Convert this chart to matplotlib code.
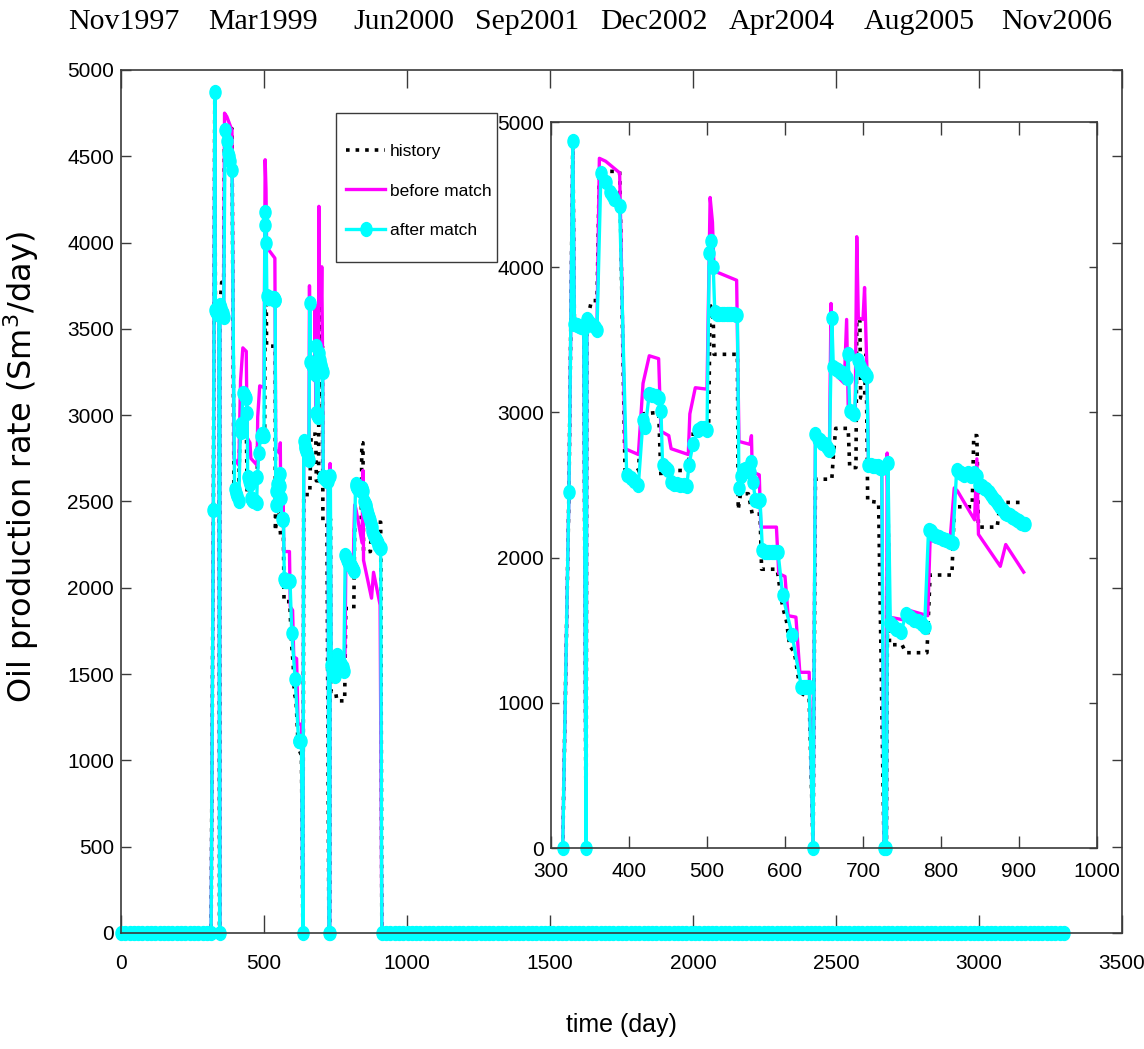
import numpy as np
import matplotlib
matplotlib.use("Agg")
import matplotlib.pyplot as plt
from matplotlib.path import Path
from matplotlib.patches import Rectangle
from matplotlib.transforms import Affine2D

# report days with no production (before start-up and after the well is shut)
shut_early = np.arange(0, 301, 15)
shut_late = np.arange(912, 3301, 15)

# observed oil rate, Sm3/day
hist_t = [315, 323, 328, 330, 342, 345, 346, 349, 352, 359, 362, 388, 395, 412,
          417, 438, 441, 444, 476, 478, 502, 504, 508, 509, 539, 540, 543, 553,
          558, 568, 570, 590, 593, 597, 602, 606, 612, 620, 631, 636, 639, 660,
          662, 665, 681, 683, 691, 692, 696, 697, 702, 704, 706, 720, 727, 730,
          732, 734, 750, 755, 782, 786, 814, 817, 840, 842, 846, 848, 872, 876,
          908]
hist_v = [0, 2450, 4870, 3600, 3580, 0, 3650, 3700, 3770, 3770, 4660, 4660, 2570, 2600,
          2990, 3000, 2550, 2600, 2600, 2850, 2850, 3760, 3640, 3400, 3400, 2330, 2440, 2440,
          2300, 2300, 1920, 1920, 1800, 1660, 1560, 1390, 1350, 1070, 1030, 0, 2540, 2540,
          2700, 2890, 2890, 2620, 2620, 3640, 3640, 3100, 3100, 3400, 2390, 2380, 0, 0,
          2400, 1400, 1400, 1345, 1345, 1880, 1880, 2350, 2350, 2840, 2840, 2210, 2210, 2380,
          2380]

# simulated rate with the initial model
before_t = [315, 323, 328, 330, 342, 345, 346, 359, 362, 370, 388, 395, 412, 418,
            426, 438, 441, 451, 454, 476, 478, 485, 500, 504, 507, 509, 511, 538,
            541, 555, 557, 558, 567, 569, 589, 592, 600, 604, 614, 619, 631, 636,
            639, 657, 659, 661, 676, 679, 681, 690, 692, 694, 700, 702, 705, 707,
            724, 727, 730, 731, 734, 753, 757, 783, 786, 811, 817, 821, 843, 846,
            848, 876, 883, 906]
before_v = [0, 2450, 4870, 3610, 3580, 0, 3650, 3600, 4750, 4730, 4650, 2750, 2710, 3200,
            3390, 3370, 2870, 2840, 2750, 2710, 2990, 3170, 3160, 4480, 4310, 3990, 3970, 3910,
            2800, 2780, 2840, 2590, 2570, 2210, 2210, 1890, 1870, 1600, 1590, 1210, 1210, 0,
            2850, 2760, 3750, 3280, 3200, 3640, 3050, 2990, 4210, 3650, 3640, 3860, 3300, 2650,
            2630, 0, 0, 2720, 1590, 1570, 1640, 1600, 2120, 2080, 2480, 2460, 2260, 2680,
            2160, 1940, 2090, 1900]

# simulated rate with the history-matched model
after_t = [315, 323, 328, 330, 333, 336, 339, 342, 345, 346, 349, 352, 356, 359,
           364, 370, 375, 378, 381, 388, 397, 402, 407, 412, 418, 421, 426, 430,
           434, 438, 441, 443, 447, 450, 454, 458, 462, 466, 470, 474, 477, 482,
           488, 492, 496, 500, 503, 505, 508, 510, 513, 516, 519, 522, 525, 528,
           531, 534, 537, 539, 541, 543, 546, 549, 552, 555, 557, 559, 562, 565,
           568, 571, 574, 577, 580, 583, 586, 589, 591, 597, 609, 621, 624, 627,
           631, 636, 639, 642, 645, 648, 651, 654, 657, 660, 662, 665, 668, 671,
           674, 677, 680, 681, 683, 686, 689, 693, 696, 699, 702, 705, 707, 710,
           713, 716, 719, 722, 724, 727, 730, 732, 735, 738, 742, 746, 749, 755,
           760, 765, 770, 775, 779, 784, 787, 790, 794, 798, 803, 807, 811, 815,
           820, 823, 826, 830, 834, 838, 842, 846, 849, 852, 855, 858, 861, 864,
           867, 870, 873, 876, 879, 882, 885, 888, 891, 894, 897, 900, 903, 906,
           908]
after_v = [0, 2450, 4870, 3610, 3600, 3595, 3590, 3580, 0, 3640, 3620, 3600, 3590, 3570,
           4650, 4590, 4520, 4500, 4470, 4420, 2570, 2550, 2530, 2500, 2950, 2900, 3130, 3120,
           3110, 3100, 3010, 2640, 2620, 2600, 2520, 2510, 2505, 2500, 2500, 2490, 2640, 2780,
           2880, 2890, 2890, 2880, 4100, 4180, 4000, 3690, 3680, 3680, 3680, 3680, 3680, 3680,
           3680, 3680, 3670, 3670, 2480, 2560, 2600, 2610, 2600, 2590, 2660, 2520, 2400, 2390,
           2400, 2050, 2040, 2040, 2040, 2040, 2040, 2040, 2040, 1740, 1470, 1110, 1110, 1110,
           1110, 0, 2850, 2820, 2810, 2790, 2780, 2760, 2740, 3650, 3310, 3300, 3290, 3280,
           3270, 3260, 3240, 3400, 3010, 3000, 2990, 3360, 3320, 3290, 3270, 3250, 2640, 2640,
           2630, 2630, 2630, 2620, 2620, 0, 0, 2650, 1550, 1530, 1510, 1500, 1490, 1610,
           1590, 1570, 1560, 1540, 1520, 2190, 2180, 2160, 2150, 2140, 2130, 2120, 2110, 2100,
           2600, 2590, 2580, 2570, 2580, 2560, 2580, 2560, 2500, 2490, 2480, 2470, 2450, 2430,
           2410, 2390, 2370, 2350, 2330, 2310, 2300, 2290, 2280, 2270, 2260, 2250, 2240, 2230,
           2230]

date_labels = ["Nov1997", "Mar1999", "Jun2000", "Sep2001",
               "Dec2002", "Apr2004", "Aug2005", "Nov2006"]
date_label_x = [124, 263, 404, 527, 654, 782, 919, 1057]   # pixel centres

W, H = 1144, 1049
plt.rcParams["font.family"] = ["Liberation Sans", "DejaVu Sans"]


def full_series(t, v):
    tt = np.concatenate([shut_early, t, shut_late])
    vv = np.concatenate([np.zeros(len(shut_early)), v, np.zeros(len(shut_late))])
    return tt, vv


# slightly tall dot, like the stretched circles of the original figure
dot = Path.unit_circle().transformed(Affine2D().scale(0.8, 1.0))

styles = {
    "history": dict(color="black", lw=2.6, ls=":"),
    "before match": dict(color="#ff00ff", lw=2.4, ls="-"),
    "after match": dict(color="#00ffff", lw=2.4, ls="-", marker=dot,
                        markersize=10, markerfacecolor="#00ffff",
                        markeredgecolor="#00ffff"),
}


def draw(ax, series, label=True):
    for name, (t, v) in series.items():
        ax.plot(t, v, label=name if label else None, clip_on=False,
                **styles[name])


def style_axes(ax, xlen, ylen):
    for sp in ax.spines.values():
        sp.set_color("#3a3a3a")
        sp.set_linewidth(1.2)
    ax.tick_params(direction="in", top=True, right=True, labelsize=15,
                   colors="#3a3a3a", labelcolor="black")
    ax.tick_params(axis="x", length=xlen, width=1.0)
    ax.tick_params(axis="y", length=ylen, width=1.0)


fig = plt.figure(figsize=(W / 100, H / 100), dpi=100)

# main axes: whole record
ax = fig.add_axes([121 / W, 1 - 933 / H, 1001 / W, 863 / H])
main_series = {
    "history": full_series(hist_t, hist_v),
    "before match": full_series(before_t, before_v),
    "after match": full_series(after_t, after_v),
}
draw(ax, main_series)
ax.set_xlim(0, 3500)
ax.set_ylim(0, 5000)
ax.set_xticks(np.arange(0, 3501, 500))
ax.set_yticks(np.arange(0, 5001, 500))
style_axes(ax, 13, 7)
ax.tick_params(axis="x", pad=15)
ax.tick_params(axis="y", pad=5)
ax.set_xlabel("time (day)", fontsize=18)
ax.xaxis.set_label_coords(0.5, -0.093)
ax.set_ylabel("Oil production rate (Sm$^3$/day)", fontsize=23,
              family=["DejaVu Sans"])
ax.yaxis.set_label_coords(-0.080, 0.54)

# legend entries without frame, box drawn separately (roomier than legend's own)
leg = ax.legend(loc="upper left", bbox_to_anchor=(0.2148, 0.9258), fontsize=12.5,
                frameon=False, handlelength=2.3, handletextpad=0.25,
                labelspacing=1.42, borderpad=0.55, borderaxespad=0)
ax.add_patch(Rectangle((0.2148, 0.7775), 0.1608, 0.1727, transform=ax.transAxes,
                       facecolor="white", edgecolor="#3a3a3a", lw=1.0,
                       zorder=4.9, clip_on=False))

# inset: producing period only
ins = fig.add_axes([551 / W, 1 - 848 / H, 546 / W, 726 / H])
inset_series = {
    "history": (hist_t, hist_v),
    "before match": (before_t, before_v),
    "after match": (after_t, after_v),
}
draw(ins, inset_series, label=False)
ins.set_xlim(300, 1000)
ins.set_ylim(0, 5000)
ins.set_xticks(np.arange(300, 1001, 100))
ins.set_yticks(np.arange(0, 5001, 1000))
style_axes(ins, 9, 6)
ins.tick_params(axis="x", pad=10)
ins.tick_params(axis="y", pad=5)

for lab, px in zip(date_labels, date_label_x):
    fig.text(px / W, 1 - 22 / H, lab, ha="center", va="center",
             fontsize=21.5, family=["Liberation Serif", "DejaVu Serif"])

fig.savefig("out.png", dpi=100)
